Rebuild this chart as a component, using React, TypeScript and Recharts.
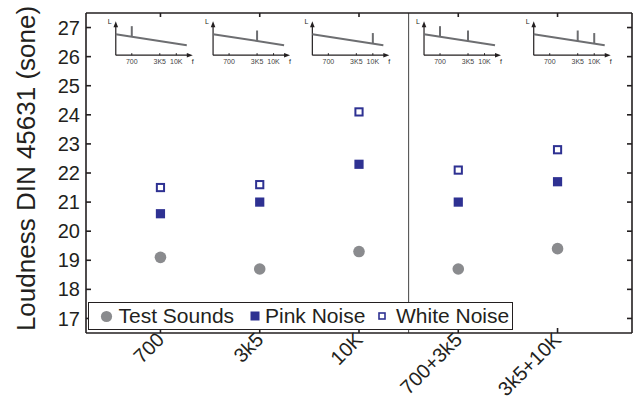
import React from 'react';
import { ScatterChart, Scatter, XAxis, YAxis, ReferenceLine, ReferenceDot, Legend } from 'recharts';

const categories = ['700', '3k5', '10K', '700+3k5', '3k5+10K'];
const testSounds = [19.1, 18.7, 19.3, 18.7, 19.4];
const pinkNoise = [20.6, 21.0, 22.3, 21.0, 21.7];
const whiteNoise = [21.5, 21.6, 24.1, 22.1, 22.8];
const yTicks = [17, 18, 19, 20, 21, 22, 23, 24, 25, 26, 27];
const xTicks = [1, 2, 3, 4, 5];

// little spectrum sketches on top of each column
const insetX = [0.55, 1.53, 2.53, 3.655, 4.76];
const insetPeaks = [['700'], ['3K5'], ['10K'], ['700', '3K5'], ['3K5', '10K']];
const insetFreqs = ['700', '3K5', '10K'];

const FONT = '"Liberation Sans", Arial, Helvetica, sans-serif';
const INK = '#231f20';
const GRAY = '#8a8b8e';
const BLUE = '#2e3192';

const toPoints = (vals: number[]) => vals.map((v, i) => ({ x: i + 1, y: v }));

const freqPos: Record<string, number> = { '700': 16, '3K5': 44, '10K': 60.5 };
const slopeY = (dx: number) => -21 + (11 * dx) / 71;

const makeInset = (peaks: string[]) => (props: any) => {
  const { cx, cy } = props;
  return (
    <g>
      <line x1={cx} y1={cy} x2={cx} y2={cy - 29} stroke={INK} strokeWidth={1.2} />
      <path d={`M${cx - 2.3},${cy - 28} L${cx},${cy - 34} L${cx + 2.3},${cy - 28} Z`} fill={INK} />
      <line x1={cx} y1={cy} x2={cx + 72} y2={cy} stroke={INK} strokeWidth={1.2} />
      <path d={`M${cx + 71},${cy - 2.3} L${cx + 77},${cy} L${cx + 71},${cy + 2.3} Z`} fill={INK} />
      <text x={cx - 6} y={cy - 31} fontSize={7} fontFamily={FONT} fill={INK} textAnchor="middle">L</text>
      <text x={cx + 77} y={cy + 9} fontSize={7} fontFamily={FONT} fill={INK} textAnchor="middle">f</text>
      {insetFreqs.map((f) => (
        <g key={f}>
          <line x1={cx + freqPos[f]} y1={cy} x2={cx + freqPos[f]} y2={cy - 2} stroke={INK} strokeWidth={1} />
          <text x={cx + freqPos[f]} y={cy + 9} fontSize={7} fontFamily={FONT} fill="#444" textAnchor="middle">{f}</text>
        </g>
      ))}
      <line x1={cx} y1={cy - 21} x2={cx + 71} y2={cy - 10} stroke="#6d6e71" strokeWidth={2} />
      {peaks.map((p) => (
        <line key={p} x1={cx + freqPos[p]} y1={cy + slopeY(freqPos[p])} x2={cx + freqPos[p]} y2={cy + slopeY(freqPos[p]) - 10.5} stroke="#6d6e71" strokeWidth={2} />
      ))}
    </g>
  );
};

const CircleMark = (props: any) => <circle cx={props.cx} cy={props.cy} r={5.8} fill={GRAY} />;
const FilledSquare = (props: any) => <rect x={props.cx - 4.6} y={props.cy - 4.6} width={9.2} height={9.2} fill={BLUE} />;
const HollowSquare = (props: any) => (
  <rect x={props.cx - 3.6} y={props.cy - 3.6} width={7.2} height={7.2} fill="#fff" stroke={BLUE} strokeWidth={2} />
);

const XTick = (props: any) => {
  const { x, y, payload } = props;
  const label = categories[payload.value - 1];
  return (
    <text x={x + 5} y={y} transform={`rotate(-45, ${x + 5}, ${y})`} textAnchor="end" fontSize={20} fontFamily={FONT} fill={INK}>
      {label}
    </text>
  );
};

const NoLabel = () => <g />;

const YTitle = () => (
  <text x={35} y={168.5} transform="rotate(-90, 35, 168.5)" textAnchor="middle" fontSize={26} fontFamily={FONT} fill={INK}>
    Loudness DIN 45631 (sone)
  </text>
);

const LegendBox = () => (
  <div
    style={{
      position: 'relative',
      width: 425,
      height: 28,
      boxSizing: 'border-box',
      border: `1.5px solid ${INK}`,
      background: '#fff',
      fontFamily: FONT,
      fontSize: 21,
      color: INK,
      whiteSpace: 'nowrap',
    }}
  >
    <svg style={{ position: 'absolute', left: 11, top: 6.5 }} width={13} height={13}>
      <circle cx={6.5} cy={6.5} r={5.6} fill={GRAY} />
    </svg>
    <span style={{ position: 'absolute', left: 29.5, top: 0, lineHeight: '25px' }}>Test Sounds</span>
    <svg style={{ position: 'absolute', left: 161, top: 8 }} width={10} height={10}>
      <rect x={0.5} y={0.5} width={9} height={9} fill={BLUE} />
    </svg>
    <span style={{ position: 'absolute', left: 176, top: 0, lineHeight: '25px' }}>Pink Noise</span>
    <svg style={{ position: 'absolute', left: 289, top: 9 }} width={8} height={8}>
      <rect x={1} y={1} width={6} height={6} fill="#fff" stroke={BLUE} strokeWidth={1.6} />
    </svg>
    <span style={{ position: 'absolute', left: 307, top: 0, lineHeight: '25px' }}>White Noise</span>
  </div>
);

export default function App() {
  return (
    <div style={{ position: 'absolute', left: 0, top: 0 }}>
      <ScatterChart width={635} height={403} margin={{ top: 12, right: 2, bottom: 40, left: 26 }}>
        <XAxis
          dataKey="x"
          type="number"
          domain={[0.25, 5.75]}
          ticks={xTicks}
          tick={<XTick />}
          tickSize={-5}
          tickMargin={13}
          height={30}
          stroke={INK}
          strokeWidth={1.6}
          interval={0}
        />
        <XAxis
          xAxisId="top"
          dataKey="x"
          orientation="top"
          type="number"
          domain={[0.25, 5.75]}
          ticks={xTicks}
          tick={<NoLabel />}
          tickSize={-4}
          height={1}
          stroke={INK}
          strokeWidth={1.6}
          interval={0}
        />
        <YAxis
          dataKey="y"
          type="number"
          domain={[16.5, 27.5]}
          ticks={yTicks}
          tickSize={-5}
          tickMargin={11}
          width={60}
          stroke={INK}
          strokeWidth={1.6}
          interval={0}
          tick={{ fontSize: 20, fontFamily: FONT, fill: INK }}
          label={<YTitle />}
        />
        <YAxis
          yAxisId="right"
          dataKey="y"
          orientation="right"
          type="number"
          domain={[16.5, 27.5]}
          ticks={yTicks}
          tick={<NoLabel />}
          tickSize={-5}
          width={1}
          stroke={INK}
          strokeWidth={1.6}
          interval={0}
        />
        <ReferenceLine x={3.5} stroke="#444" strokeWidth={1} />
        {insetX.map((ix, i) => (
          <ReferenceDot key={i} x={ix} y={26.05} shape={makeInset(insetPeaks[i])} />
        ))}
        <Scatter name="Test Sounds" data={toPoints(testSounds)} shape={<CircleMark />} fill={GRAY} isAnimationActive={false} />
        <Scatter name="Pink Noise" data={toPoints(pinkNoise)} shape={<FilledSquare />} fill={BLUE} isAnimationActive={false} />
        <Scatter
          name="White Noise"
          xAxisId="top"
          yAxisId="right"
          data={toPoints(whiteNoise)}
          shape={<HollowSquare />}
          fill={BLUE}
          isAnimationActive={false}
        />
        <Legend
          layout="horizontal"
          verticalAlign="middle"
          align="center"
          content={<LegendBox />}
          wrapperStyle={{ left: 88, top: 302, width: 425, height: 28 }}
        />
      </ScatterChart>
    </div>
  );
}
